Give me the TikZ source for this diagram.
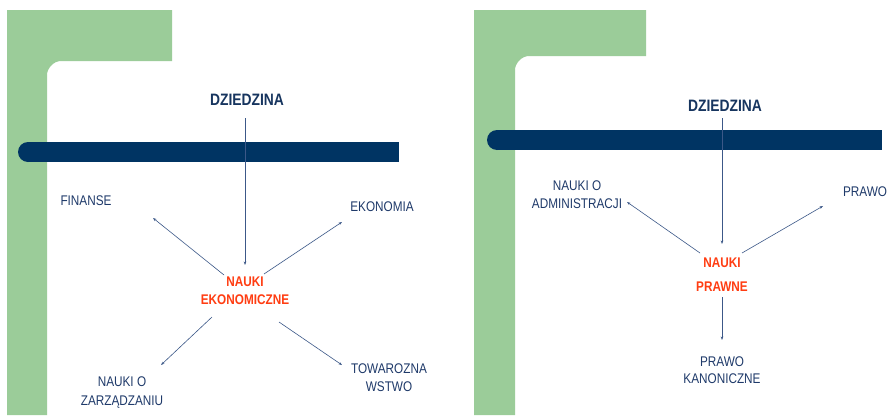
\documentclass[tikz,border=0pt]{standalone}
\usepackage{fontspec}
\setmainfont{Liberation Sans}[FakeStretch=0.84]
\usetikzlibrary{arrows.meta}
\definecolor{leaf}{HTML}{9BCC99}
\definecolor{navybar}{HTML}{003463}
\definecolor{navytext}{HTML}{1F3A6A}
\definecolor{headtext}{HTML}{17355F}
\definecolor{linkcol}{HTML}{3C5888}
\definecolor{hot}{HTML}{FF3D12}
\tikzset{
  lbl/.style={text=navytext, font=\fontsize{14}{18}\selectfont, align=center, inner sep=0pt},
  head/.style={text=headtext, font=\fontsize{16.5}{20}\bfseries\selectfont, inner sep=0pt},
  core/.style={text=hot, font=\fontsize{14}{18}\bfseries\selectfont, align=center, inner sep=0pt},
  link/.style={draw=linkcol, line width=0.6pt, -{Stealth[length=3.5pt,width=2.6pt]}},
}
\begin{document}
\begin{tikzpicture}[x=1pt,y=-1pt]
\useasboundingbox[fill=white] (0,0) rectangle (890,415);
% ---------- left panel ----------
\fill[leaf] (7,10) -- (172,10) -- (172,61) -- (61,61)
  .. controls (53.3,61) and (47,68.7) .. (47,75) -- (47,415) -- (7,415) -- cycle;
\fill[navybar] (28,142) rectangle (399,162);
\fill[navybar] (28,152) circle[radius=10];
\node[head] (d1) at (247,100) {DZIEDZINA};
\node[core] (n1) at (245,291) {NAUKI\\EKONOMICZNE};
\node[lbl] (fin) at (86,201) {FINANSE};
\node[lbl] (eko) at (382,207) {EKONOMIA};
\node[lbl, font=\fontsize{14}{19}\selectfont] (zar) at (122,393) {NAUKI O\\ZARZĄDZANIU};
\node[lbl] (tow) at (389,378) {TOWAROZNA\\WSTWO};
\coordinate (d1s) at (245,118);
\coordinate (n1t) at (245,265);
\coordinate (n1a) at (224,275);
\coordinate (fine) at (153,218);
\coordinate (n1b) at (264,274);
\coordinate (ekoe) at (342,222);
\coordinate (n1c) at (212,317);
\coordinate (zare) at (161,365);
\coordinate (n1d) at (279,322);
\coordinate (towe) at (342,365);
\draw[link] (d1s) -- (n1t);
\draw[link] (n1a) -- (fine);
\draw[link] (n1b) -- (ekoe);
\draw[link] (n1c) -- (zare);
\draw[link] (n1d) -- (towe);
% ---------- right panel ----------
\fill[leaf] (474,10) -- (646,10) -- (646,56) -- (529,56)
  .. controls (521.3,56) and (515,63.7) .. (515,70) -- (515,415) -- (474,415) -- cycle;
\fill[navybar] (497,130) rectangle (882,150);
\fill[navybar] (497,140) circle[radius=10];
\node[head] (d2) at (725,106) {DZIEDZINA};
\node[core, font=\fontsize{14}{24}\bfseries\selectfont] (n2) at (722,275) {NAUKI\\PRAWNE};
\node[lbl] (adm) at (577,195) {NAUKI O\\ADMINISTRACJI};
\node[lbl] (pr) at (865,192) {PRAWO};
\node[lbl, font=\fontsize{14}{17}\selectfont] (kan) at (722,370) {PRAWO\\KANONICZNE};
\coordinate (d2s) at (722,118);
\coordinate (n2t) at (722,244);
\coordinate (n2a) at (700,253);
\coordinate (adme) at (627,202);
\coordinate (n2b) at (742,253);
\coordinate (pre) at (823,206);
\coordinate (n2c) at (722,297);
\coordinate (kane) at (722,340);
\draw[link] (d2s) -- (n2t);
\draw[link] (n2a) -- (adme);
\draw[link] (n2b) -- (pre);
\draw[link] (n2c) -- (kane);
\end{tikzpicture}
\end{document}
